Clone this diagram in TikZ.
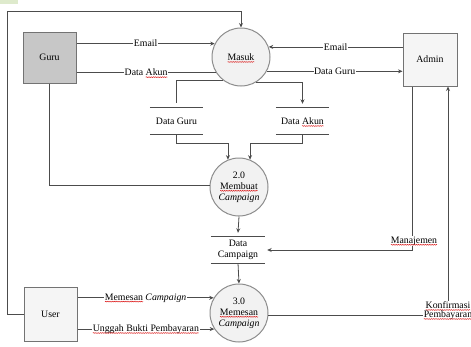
\documentclass[tikz,border=0pt]{standalone}
\usepackage{fontspec}
\setmainfont{Liberation Serif}
\usetikzlibrary{arrows.meta,calc,decorations.pathmorphing}
\newsavebox\sqbox
\newcommand\sqw[1]{\sbox\sqbox{#1}\usebox\sqbox\llap{\tikz[baseline=0pt,x=1pt,y=1pt]{\useasboundingbox (0,0) rectangle (\wd\sqbox,0);\draw[-, solid, draw=red!85!black, line width=0.35pt, decorate, decoration={snake,amplitude=0.45pt,segment length=1.8pt}] (0,-1.6) -- (\wd\sqbox,-1.6);}}}
\definecolor{patch}{RGB}{222,234,204}
\begin{document}
\begin{tikzpicture}[x=1pt,y=-1pt, font=\fontsize{9.8}{11}\selectfont,
 line/.style={draw=black!70, line width=0.8pt},
 arr/.style={line, -{Stealth[length=4.5pt,width=4pt]}},
 proc/.style={circle, draw=black!45, line width=1pt, fill=black!5, minimum size=58pt, inner sep=0pt, align=center},
 ent/.style={rectangle, draw=black!55, line width=1pt, inner sep=0pt},
 store/.style={minimum width=53pt, minimum height=26pt, inner sep=0pt, align=center},
 lbl/.style={fill=white, inner sep=0.6pt}]
\useasboundingbox (0,0) rectangle (471,346);
\fill[patch] (0,0) rectangle (18,4);
% entities
\node[ent, fill=black!22, minimum width=53pt, minimum height=51pt] (guru) at (49.5,57.5) {Guru};
\node[ent, fill=black!4, minimum width=54pt, minimum height=53pt] (admin) at (430,59.5) {Admin};
\node[ent, fill=black!4, minimum width=53pt, minimum height=54pt] (user) at (50.5,314) {User};
% processes
\node[proc] (masuk) at (241,57) {\raisebox{-4pt}{\sqw{Masuk}}};
\node[proc] (p2) at (239,187) {2.0\\\sqw{Membuat}\\\textit{Campaign}};
\node[proc] (p3) at (239,313) {3.0\\\sqw{Memesan}\\\textit{Campaign}};
% stores
\node[store] (dguru) at (176.5,121) {Data Guru};
\node[store] (dakun) at (302.5,121) {Data \sqw{Akun}};
\node[store, minimum width=54pt] (dcamp) at (238,250) {Data\\Campaign};
\foreach \s in {dguru,dakun,dcamp}{
  \draw[line] (\s.north west) -- (\s.north east) (\s.south west) -- (\s.south east);
}
% connectors
\coordinate (c1) at (7,11);
\draw[arr] (user.west) -| (c1) -| (masuk.north);
\draw[arr] (guru.east |- masuk.153) -- node[lbl]{Email} (masuk.153);
\draw[line] (guru.east |- masuk.211) -- node[lbl]{Data \sqw{Akun}} (masuk.211);
\draw[line] (masuk.232) -| ([yshift=5pt]dguru.north);
\draw[arr] (masuk.-60) -| ([yshift=4pt]dakun.north);
\draw[arr] (dguru.south) -- ++(0,9) -| (p2.112);
\draw[arr] (dakun.south) -- ++(0,9) -| (p2.68);
\draw[line] (guru.south) |- (p2.176);
\draw[arr] (masuk.-29) -- node[lbl]{Data Guru} (admin.west |- masuk.-29);
\draw[arr] (admin.west |- masuk.20) -- node[lbl]{Email} (masuk.20);
\draw[arr] (p2.south) -- ([yshift=4pt]dcamp.north);
\draw[arr] (dcamp.south) -- (p3.north);
\draw[arr] ([xshift=-18pt]admin.south) |- node[lbl,pos=0.5,yshift=9pt,xshift=2pt]{\sqw{Manajemen}} ([xshift=2pt]dcamp.east);
\draw[arr] (p3.-4) -| node[lbl,pos=0.51,align=center,font=\fontsize{9.8}{9}\selectfont]{\sqw{Konfirmasi}\\\sqw{Pembayaran}} ([xshift=18pt]admin.south);
\draw[arr] (user.east |- p3.149) -- node[lbl]{\sqw{Memesan} \textit{Campaign}} (p3.149);
\draw[arr] (user.east |- p3.213) -- node[lbl]{\sqw{Unggah Bukti Pembayaran}} (p3.213);
\end{tikzpicture}
\end{document}
